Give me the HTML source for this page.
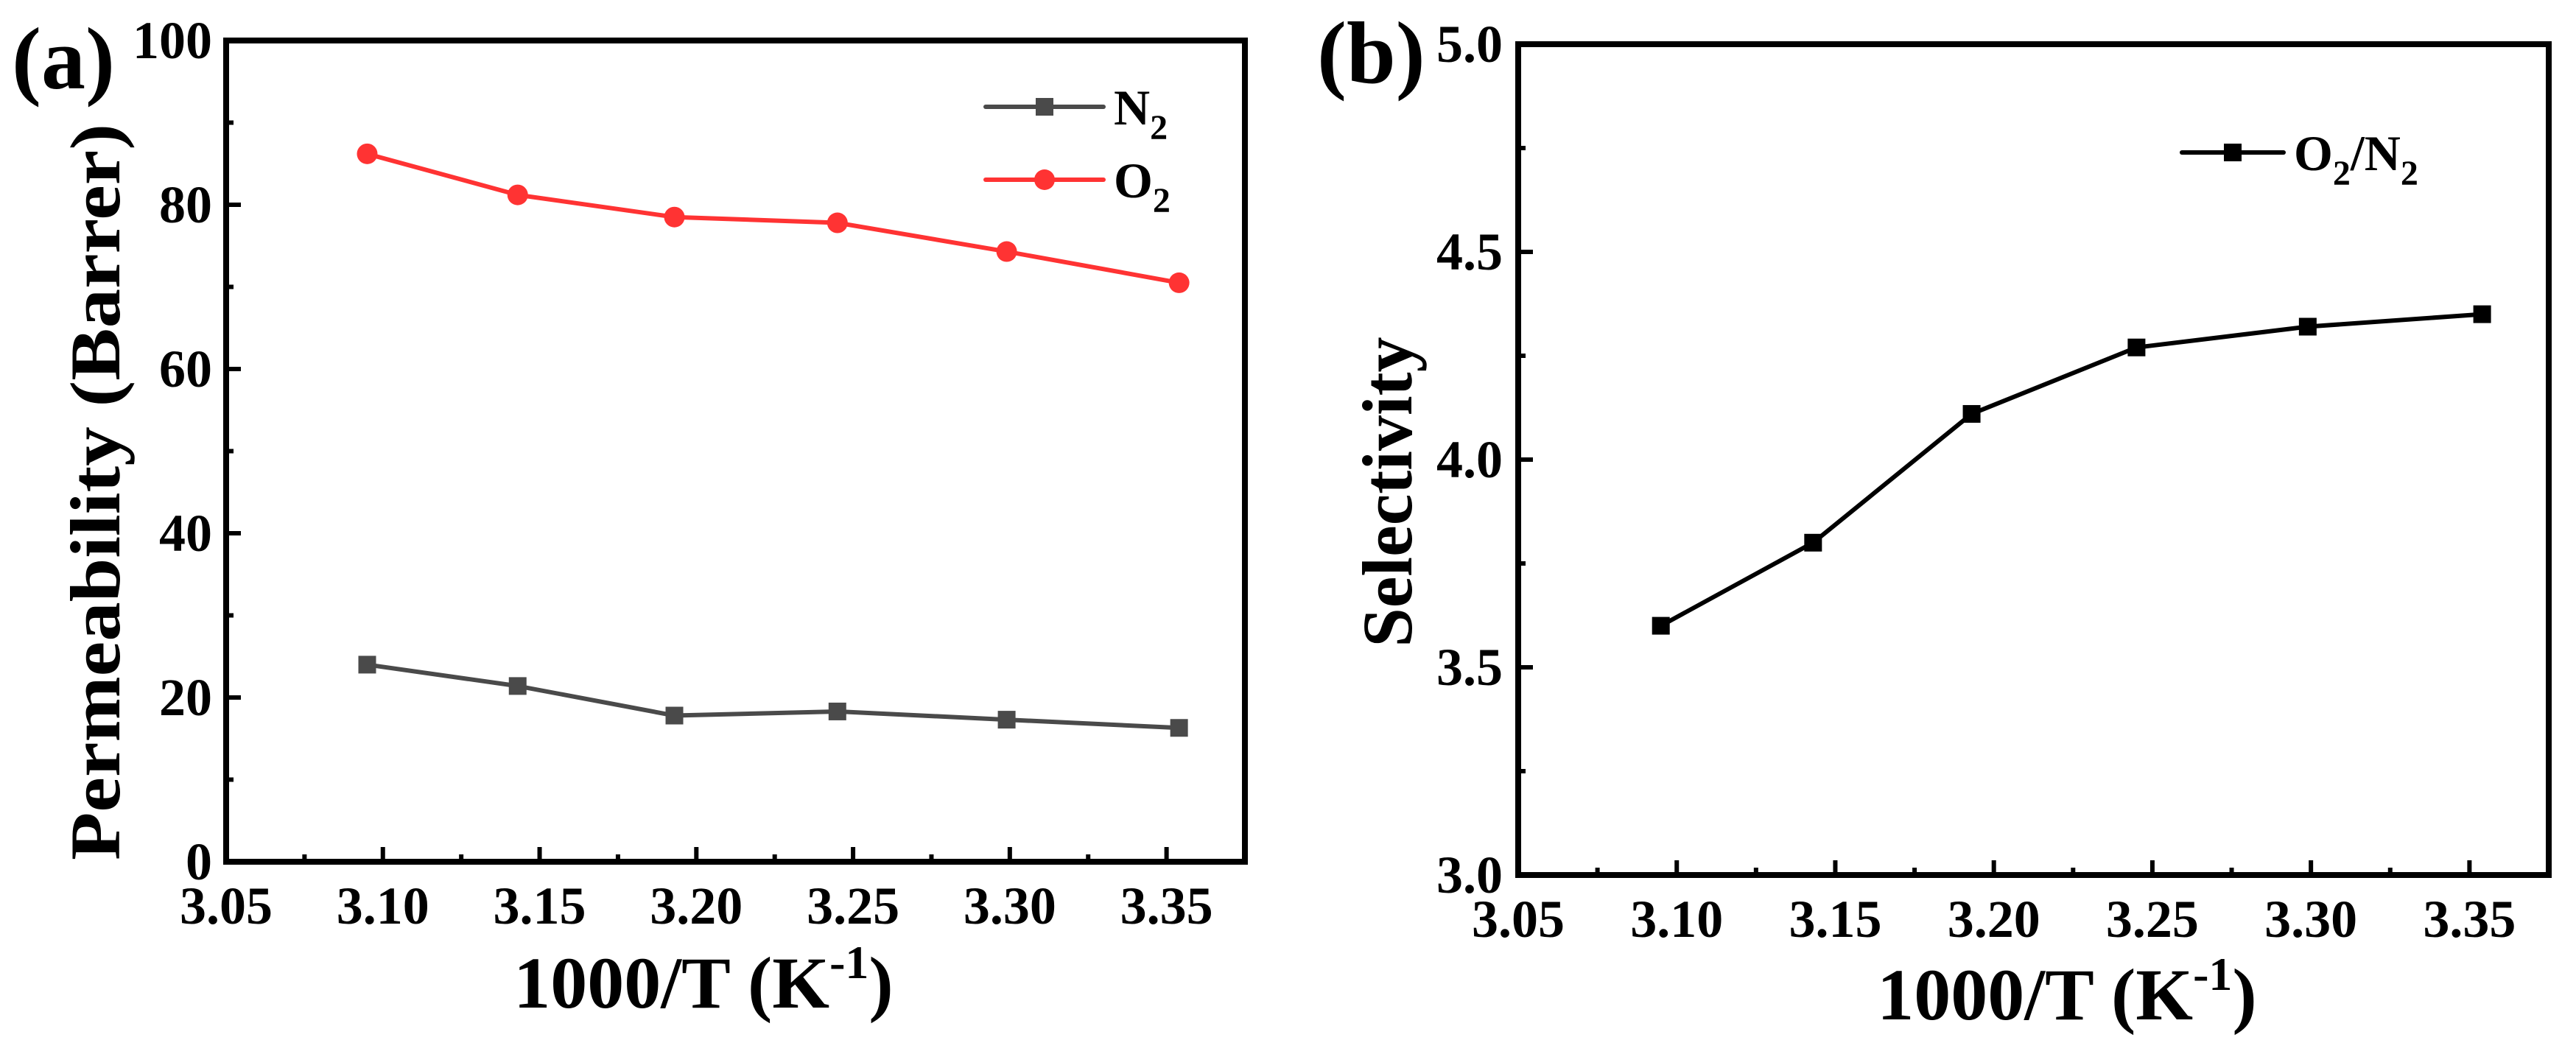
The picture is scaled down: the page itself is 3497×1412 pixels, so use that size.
<!DOCTYPE html>
<html><head><meta charset="utf-8"><style>
html,body{margin:0;padding:0;background:#fff;}
svg{display:block;font-family:"Liberation Serif","Times New Roman",serif;font-weight:bold;}
svg text{font-family:"Liberation Serif","Times New Roman",serif;font-weight:bold;}
</style></head><body>
<svg id="fig" width="3497" height="1412" viewBox="0 0 3497 1412" xmlns="http://www.w3.org/2000/svg" font-family="Liberation Serif, Times New Roman, serif" font-weight="bold">
<g id="pa"></g>
<g id="pb"></g>
</svg>
<script>
const xVals = [3.095, 3.143, 3.193, 3.245, 3.299, 3.354];
const n2Vals = [24.0, 21.4, 17.8, 18.3, 17.3, 16.3];
const o2Vals = [86.2, 81.2, 78.5, 77.8, 74.3, 70.5];
const selVals = [3.60, 3.80, 4.11, 4.27, 4.32, 4.35];
const xTicks = ["3.05","3.10","3.15","3.20","3.25","3.30","3.35"];
const yTicksA = ["0","20","40","60","80","100"];
const yTicksB = ["3.0","3.5","4.0","4.5","5.0"];

const NS="http://www.w3.org/2000/svg";
const FF="Liberation Serif, Times New Roman, serif";
function mk(parent, tag, attrs, text){
  const e=document.createElementNS(NS,tag);
  for(const k in attrs) e.setAttribute(k,attrs[k]);
  if(tag==='text'){ e.setAttribute('font-family',FF); e.setAttribute('font-weight','bold'); }
  if(text!==undefined) e.textContent=text;
  parent.appendChild(e); return e;
}
function makeAxes(g, L, R, T, B, xmin, xmax, ymin, ymax){
  const sx=v=>L+(v-xmin)/(xmax-xmin)*(R-L);
  const sy=v=>B-(v-ymin)/(ymax-ymin)*(B-T);
  return {sx,sy};
}
function drawFrame(g,L,R,T,B,sx,sy,yTicks,yStep,yMin,labelRight){
  const fr=mk(g,'rect',{x:L,y:T,width:R-L,height:B-T,fill:'none',stroke:'#000','stroke-width':8});
  
  
  xTicks.forEach((t,i)=>{
    const v=parseFloat(t); const x=sx(v);
    const tk=mk(g,'line',{x1:x,x2:x,y1:B,y2:B-20,stroke:'#000','stroke-width':6});
    
    
    if(i<xTicks.length-1){
      const xm=sx(v+0.025);
      const mt=mk(g,'line',{x1:xm,x2:xm,y1:B,y2:B-10,stroke:'#000','stroke-width':6});
      
      
    }
    const lb=mk(g,'text',{x:x,y:B+84,'font-size':72,'text-anchor':'middle'},t);
    
    
  });
  yTicks.forEach((t,i)=>{
    const v=parseFloat(t); const y=sy(v);
    const tk=mk(g,'line',{x1:L,x2:L+20,y1:y,y2:y,stroke:'#000','stroke-width':6});
    
    
    if(i<yTicks.length-1){
      const ym=sy(v+yStep/2);
      const mt=mk(g,'line',{x1:L,x2:L+10,y1:ym,y2:ym,stroke:'#000','stroke-width':6});
      
      
    }
    const lb=mk(g,'text',{x:labelRight,y:y+24,'font-size':72,'text-anchor':'end'},t);
    
    
  });
}
function series(g,xs,ys,sx,sy,color,marker,name){
  const pts=xs.map((x,i)=>sx(x)+','+sy(ys[i])).join(' ');
  const pl=mk(g,'polyline',{points:pts,fill:'none',stroke:color,'stroke-width':6,'stroke-linejoin':'round'});
  
  
  xs.forEach((x,i)=>{
    let m;
    if(marker==='circle') m=mk(g,'circle',{cx:sx(x),cy:sy(ys[i]),r:14,fill:color});
    else m=mk(g,'rect',{x:sx(x)-12,y:sy(ys[i])-12,width:24,height:24,fill:color});
    
    
  });
}
function legendEntry(g,x1,x2,y,color,marker,label,name){
  const le=mk(g,'g',{});
  
  
  mk(le,'line',{x1:x1,x2:x2,y1:y,y2:y,stroke:color,'stroke-width':6,'stroke-linecap':'round'});
  const mx=(x1+x2)/2;
  if(marker==='circle') mk(le,'circle',{cx:mx,cy:y,r:14,fill:color});
  else mk(le,'rect',{x:mx-12,y:y-12,width:24,height:24,fill:color});
  const t=mk(le,'text',{x:x2+14,y:y+24,'font-size':68});
  t.innerHTML=label;
}

// Panel A
const ga=document.getElementById('pa');
const A=makeAxes(ga,307,1690,55,1170,3.05,3.375,0,100);
drawFrame(ga,307,1690,55,1170,A.sx,A.sy,yTicksA,20,0,288);
series(ga,xVals,n2Vals,A.sx,A.sy,'#4a4a4a','square','n2');
series(ga,xVals,o2Vals,A.sx,A.sy,'#ff3333','circle','o2');
legendEntry(ga,1338,1498,145,'#4a4a4a','square','N<tspan font-size="48" dy="20">2</tspan>','legend-n2');
legendEntry(ga,1338,1498,244,'#ff3333','circle','O<tspan font-size="48" dy="20">2</tspan>','legend-o2');
let t=mk(ga,'text',{x:0,y:0,'font-size':96,'text-anchor':'middle',transform:'translate(162,668) rotate(-90)',textLength:1000,lengthAdjust:'spacingAndGlyphs'},'Permeability (Barrer)');


t=mk(ga,'text',{x:955,y:1368,'font-size':100,'text-anchor':'middle'});
t.innerHTML='1000/T (K<tspan font-size="64" dy="-40">-1</tspan><tspan dy="40">)</tspan>';


t=mk(ga,'text',{x:16,y:120,'font-size':120},'(a)');



// Panel B
const gb=document.getElementById('pb');
const B=makeAxes(gb,2061,3460,60,1188,3.05,3.375,3.0,5.0);
drawFrame(gb,2061,3460,60,1188,B.sx,B.sy,yTicksB,0.5,3.0,2040);
series(gb,xVals,selVals,B.sx,B.sy,'#000','square','selectivity');
legendEntry(gb,2962,3100,207,'#000','square','O<tspan font-size="48" dy="20">2</tspan><tspan dy="-20">/N</tspan><tspan font-size="48" dy="20">2</tspan>','legend-o2-n2');
t=mk(gb,'text',{x:0,y:0,'font-size':96,'text-anchor':'middle',transform:'translate(1916,668) rotate(-90)'},'Selectivity');


t=mk(gb,'text',{x:2806,y:1384,'font-size':100,'text-anchor':'middle'});
t.innerHTML='1000/T (K<tspan font-size="64" dy="-40">-1</tspan><tspan dy="40">)</tspan>';


t=mk(gb,'text',{x:1788,y:112,'font-size':120},'(b)');


</script>
</body></html>
